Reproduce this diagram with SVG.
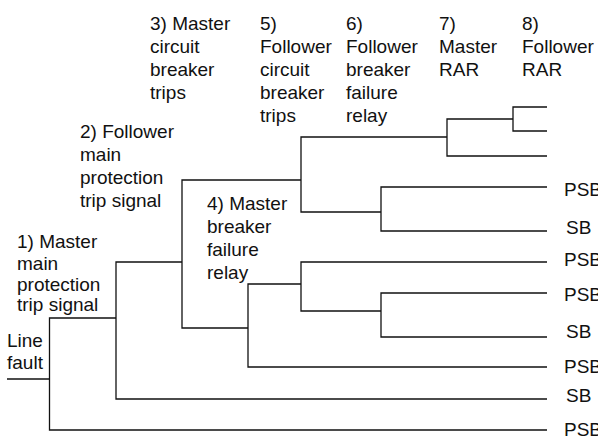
<svg xmlns="http://www.w3.org/2000/svg" width="598" height="439" viewBox="0 0 598 439">
<style>
text{font-family:"Liberation Sans",Arial,sans-serif;font-size:19px;fill:#111}
.c path{fill:none;stroke:#111;stroke-width:1.3}
</style>
<rect width="598" height="439" fill="#fff"/>
<g id="connectors" class="c">
<path d="M7,379H49.5"/>
<path d="M116,318H49.5V430H547"/>
<path d="M182,262H116V399H547"/>
<path d="M301,180H182V328H248"/>
<path d="M447,137H301V212H381"/>
<path d="M513,119H447V156H547"/>
<path d="M547,107H513V131H547"/>
<path d="M547,187H381V231H547"/>
<path d="M301,284H248V367H547"/>
<path d="M547,262H301V311H381"/>
<path d="M547,293H381V337H547"/>
</g>
<g id="n0"><text x="7" y="347">Line</text><text x="7" y="369">fault</text></g>
<g id="n1"><text x="17" y="248">1) Master</text><text x="17" y="270">main</text><text x="17" y="291">protection</text><text x="17" y="311">trip signal</text></g>
<g id="n2"><text x="80" y="138">2) Follower</text><text x="80" y="161">main</text><text x="80" y="184">protection</text><text x="80" y="207">trip signal</text></g>
<g id="n3"><text x="150" y="29.5">3) Master</text><text x="150" y="52.5">circuit</text><text x="150" y="75.5">breaker</text><text x="150" y="98.5">trips</text></g>
<g id="n4"><text x="207" y="210">4) Master</text><text x="207" y="233">breaker</text><text x="207" y="256">failure</text><text x="207" y="279">relay</text></g>
<g id="n5"><text x="260" y="29.5">5)</text><text x="260" y="52.5">Follower</text><text x="260" y="75.5">circuit</text><text x="260" y="98.5">breaker</text><text x="260" y="121.5">trips</text></g>
<g id="n6"><text x="346" y="29.5">6)</text><text x="346" y="52.5">Follower</text><text x="346" y="75.5">breaker</text><text x="346" y="98.5">failure</text><text x="346" y="121.5">relay</text></g>
<g id="n7"><text x="439" y="29.5">7)</text><text x="439" y="52.5">Master</text><text x="439" y="75.5">RAR</text></g>
<g id="n8"><text x="522" y="29.5">8)</text><text x="522" y="52.5">Follower</text><text x="522" y="75.5">RAR</text></g>
<g id="o1"><text x="564" y="196">PSB</text></g>
<g id="o2"><text x="566" y="234">SB</text></g>
<g id="o3"><text x="564" y="266">PSB</text></g>
<g id="o4"><text x="564" y="301">PSB</text></g>
<g id="o5"><text x="566" y="338">SB</text></g>
<g id="o6"><text x="564" y="373">PSB</text></g>
<g id="o7"><text x="566" y="402">SB</text></g>
<g id="o8"><text x="564" y="436">PSB</text></g>
</svg>
